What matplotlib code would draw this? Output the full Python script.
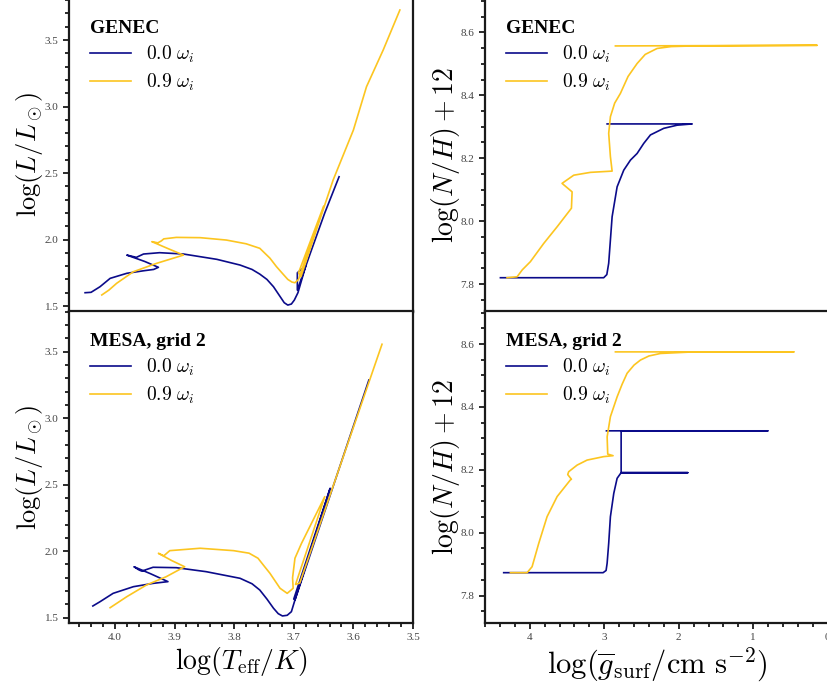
import matplotlib
matplotlib.use("Agg")
import matplotlib.pyplot as plt
from matplotlib.ticker import MultipleLocator

plt.rcParams['font.family'] = 'serif'
plt.rcParams['font.serif'] = ['Liberation Serif', 'DejaVu Serif']
plt.rcParams['mathtext.fontset'] = 'cm'

# HR diagram tracks: log Teff, log L
genec_hr_slow_teff = [4.050, 4.040, 4.025, 4.008, 3.980, 3.952, 3.935, 3.927, 3.950, 3.980, 3.964, 3.952,
                      3.925, 3.885, 3.829, 3.790, 3.770, 3.757, 3.745, 3.734, 3.722, 3.716, 3.710, 3.704,
                      3.699, 3.693, 3.680, 3.694, 3.694, 3.672, 3.648, 3.624]
genec_hr_slow_lum = [1.600, 1.603, 1.645, 1.708, 1.746, 1.765, 1.775, 1.791, 1.835, 1.883, 1.866, 1.891,
                     1.901, 1.891, 1.851, 1.808, 1.775, 1.740, 1.700, 1.645, 1.565, 1.525, 1.507, 1.515,
                     1.545, 1.600, 1.800, 1.750, 1.620, 1.900, 2.200, 2.472]
genec_hr_fast_teff = [4.022, 4.010, 3.997, 3.969, 3.930, 3.885, 3.910, 3.938, 3.928, 3.922, 3.918, 3.897,
                      3.857, 3.813, 3.780, 3.757, 3.740, 3.729, 3.718, 3.710, 3.703, 3.698, 3.692, 3.650,
                      3.692, 3.688, 3.660, 3.634, 3.600, 3.578, 3.550, 3.522]
genec_hr_fast_lum = [1.583, 1.620, 1.671, 1.758, 1.821, 1.883, 1.930, 1.984, 1.975, 1.990, 2.005, 2.016,
                     2.014, 1.996, 1.968, 1.934, 1.860, 1.796, 1.740, 1.700, 1.680, 1.675, 1.700, 2.250,
                     1.750, 1.720, 2.100, 2.447, 2.823, 3.149, 3.425, 3.726]

mesa_hr_slow_teff = [4.037, 4.025, 4.003, 3.969, 3.936, 3.911, 3.940, 3.968, 3.960, 3.955, 3.936, 3.897,
                     3.847, 3.790, 3.770, 3.757, 3.745, 3.734, 3.726, 3.719, 3.711, 3.704, 3.698, 3.639,
                     3.700, 3.698, 3.574]
mesa_hr_slow_lum = [1.588, 1.620, 1.683, 1.733, 1.758, 1.771, 1.830, 1.883, 1.860, 1.850, 1.879, 1.876,
                    1.846, 1.796, 1.755, 1.708, 1.640, 1.571, 1.530, 1.513, 1.518, 1.545, 1.633, 2.473,
                    1.640, 1.633, 3.287]
mesa_hr_fast_teff = [4.008, 3.980, 3.947, 3.914, 3.883, 3.905, 3.927, 3.918, 3.908, 3.857, 3.801, 3.775,
                     3.760, 3.750, 3.740, 3.723, 3.711, 3.701, 3.702, 3.698, 3.687, 3.648, 3.697, 3.690,
                     3.552]
mesa_hr_fast_lum = [1.575, 1.658, 1.746, 1.808, 1.883, 1.930, 1.984, 1.965, 2.004, 2.022, 2.004, 1.985,
                    1.947, 1.890, 1.834, 1.721, 1.683, 1.721, 1.800, 1.947, 2.059, 2.410, 1.750, 1.760,
                    3.556]

# surface nitrogen: log g, log(N/H)+12
genec_n_slow_logg = [4.393, 3.007, 2.965, 2.940, 2.894, 2.827, 2.738, 2.648, 2.559, 2.470, 2.380, 2.201,
                     2.022, 1.820, 2.961]
genec_n_slow_abund = [7.820, 7.820, 7.830, 7.866, 8.014, 8.109, 8.162, 8.194, 8.215, 8.247, 8.274, 8.295,
                      8.305, 8.309, 8.309]
genec_n_fast_logg = [4.304, 4.169, 4.100, 3.991, 3.812, 3.632, 3.440, 3.431, 3.566, 3.409, 3.185, 2.894,
                     2.917, 2.940, 2.917, 2.860, 2.783, 2.680, 2.559, 2.450, 2.290, 2.100, 1.799, 0.142,
                     2.850]
genec_n_fast_abund = [7.820, 7.823, 7.845, 7.871, 7.929, 7.982, 8.041, 8.093, 8.120, 8.146, 8.155, 8.159,
                      8.205, 8.279, 8.332, 8.375, 8.406, 8.460, 8.501, 8.530, 8.549, 8.555, 8.557, 8.559,
                      8.557]

mesa_n_slow_logg = [4.349, 3.015, 2.975, 2.961, 2.940, 2.917, 2.872, 2.827, 2.773, 1.879, 2.773, 2.773,
                    0.805, 2.970]
mesa_n_slow_abund = [7.873, 7.873, 7.880, 7.903, 7.966, 8.051, 8.125, 8.173, 8.191, 8.191, 8.191, 8.324,
                     8.324, 8.324]
mesa_n_fast_logg = [4.259, 4.035, 3.968, 3.879, 3.767, 3.632, 3.454, 3.440, 3.490, 3.477, 3.364, 3.230,
                    3.007, 2.881, 2.953, 2.961, 2.917, 2.827, 2.760, 2.693, 2.600, 2.514, 2.400, 2.245,
                    1.799, 0.456, 2.850]
mesa_n_fast_abund = [7.873, 7.873, 7.892, 7.966, 8.051, 8.115, 8.168, 8.170, 8.185, 8.194, 8.215, 8.231,
                     8.242, 8.245, 8.250, 8.305, 8.369, 8.432, 8.472, 8.507, 8.533, 8.549, 8.562, 8.570,
                     8.575, 8.575, 8.575]

labels = [r'$0.0\ \omega_i$', r'$0.9\ \omega_i$']
titles = ['GENEC', 'MESA, grid 2']

BLUE = '#0b0b8a'
GOLD = '#fcc520'
W, H = 828, 687


def px_axes(fig, left, top, right, bottom):
    return fig.add_axes([left / W, 1 - bottom / H, (right - left) / W, (bottom - top) / H])


def style(ax):
    for s in ax.spines.values():
        s.set_linewidth(1.6)
        s.set_color('#1a1a1a')
    ax.tick_params(which='both', direction='out', width=1.3, color='#1a1a1a',
                   labelsize=8, labelcolor='#444444')
    ax.tick_params(which='major', length=4)
    ax.tick_params(which='minor', length=3)


def add_legend(ax, title):
    leg = ax.legend(loc='upper left', bbox_to_anchor=(0.01, 0.985), frameon=False,
                    fontsize=14, handlelength=2.1, handletextpad=0.8, labelspacing=0.35,
                    title=title, alignment='left',
                    title_fontproperties={'weight': 'bold', 'size': 14, 'family': 'serif'})
    return leg


fig = plt.figure(figsize=(8.28, 6.87), dpi=100)

ax_hr1 = px_axes(fig, 69, -2.5, 413, 312)
ax_hr2 = px_axes(fig, 69, 311, 413, 623)
ax_n1 = px_axes(fig, 485, -2.5, 830, 312)
ax_n2 = px_axes(fig, 485, 311, 830, 623)

ax_hr1.plot(genec_hr_slow_teff, genec_hr_slow_lum, color=BLUE, lw=1.2, label=labels[0])
ax_hr1.plot(genec_hr_fast_teff, genec_hr_fast_lum, color=GOLD, lw=1.2, label=labels[1])
ax_hr2.plot(mesa_hr_slow_teff, mesa_hr_slow_lum, color=BLUE, lw=1.2, label=labels[0])
ax_hr2.plot(mesa_hr_fast_teff, mesa_hr_fast_lum, color=GOLD, lw=1.2, label=labels[1])

ax_n1.plot(genec_n_slow_logg, genec_n_slow_abund, color=BLUE, lw=1.2, label=labels[0])
ax_n1.plot(genec_n_fast_logg, genec_n_fast_abund, color=GOLD, lw=1.2, label=labels[1])
ax_n2.plot(mesa_n_slow_logg, mesa_n_slow_abund, color=BLUE, lw=1.2, label=labels[0])
ax_n2.plot(mesa_n_fast_logg, mesa_n_fast_abund, color=GOLD, lw=1.2, label=labels[1])

for ax in (ax_hr1, ax_hr2):
    ax.set_xlim(4.077, 3.5)
    ax.xaxis.set_major_locator(MultipleLocator(0.1))
    ax.xaxis.set_minor_locator(MultipleLocator(0.02))
    ax.yaxis.set_major_locator(MultipleLocator(0.5))
    ax.yaxis.set_minor_locator(MultipleLocator(0.1))
    ax.set_ylabel(r'$\log(L/L_\odot)$', fontsize=19, labelpad=0)
    style(ax)
ax_hr1.set_ylim(1.455, 3.82)
ax_hr2.set_ylim(1.46, 3.806)

for ax in (ax_n1, ax_n2):
    ax.set_xlim(4.6, -0.03)
    ax.xaxis.set_major_locator(MultipleLocator(1))
    ax.xaxis.set_minor_locator(MultipleLocator(0.2))
    ax.yaxis.set_major_locator(MultipleLocator(0.2))
    ax.yaxis.set_minor_locator(MultipleLocator(0.05))
    ax.set_ylabel(r'$\log(N/H)+12$', fontsize=20, labelpad=-1)
    style(ax)
ax_n1.set_ylim(7.711, 8.711)
ax_n2.set_ylim(7.713, 8.705)

for ax in (ax_hr1, ax_n1):
    ax.tick_params(axis='x', which='both', bottom=False, labelbottom=False)

ax_hr2.set_xlabel(r'$\log(T_{\rm eff}/K)$', fontsize=20, labelpad=2)
ax_n2.set_xlabel(r'$\log(\overline{g}_{\rm surf}/{\rm cm\ s}^{-2})$', fontsize=22, labelpad=2)

add_legend(ax_hr1, titles[0])
add_legend(ax_n1, titles[0])
add_legend(ax_hr2, titles[1])
add_legend(ax_n2, titles[1])

fig.savefig('out.png', dpi=100)
